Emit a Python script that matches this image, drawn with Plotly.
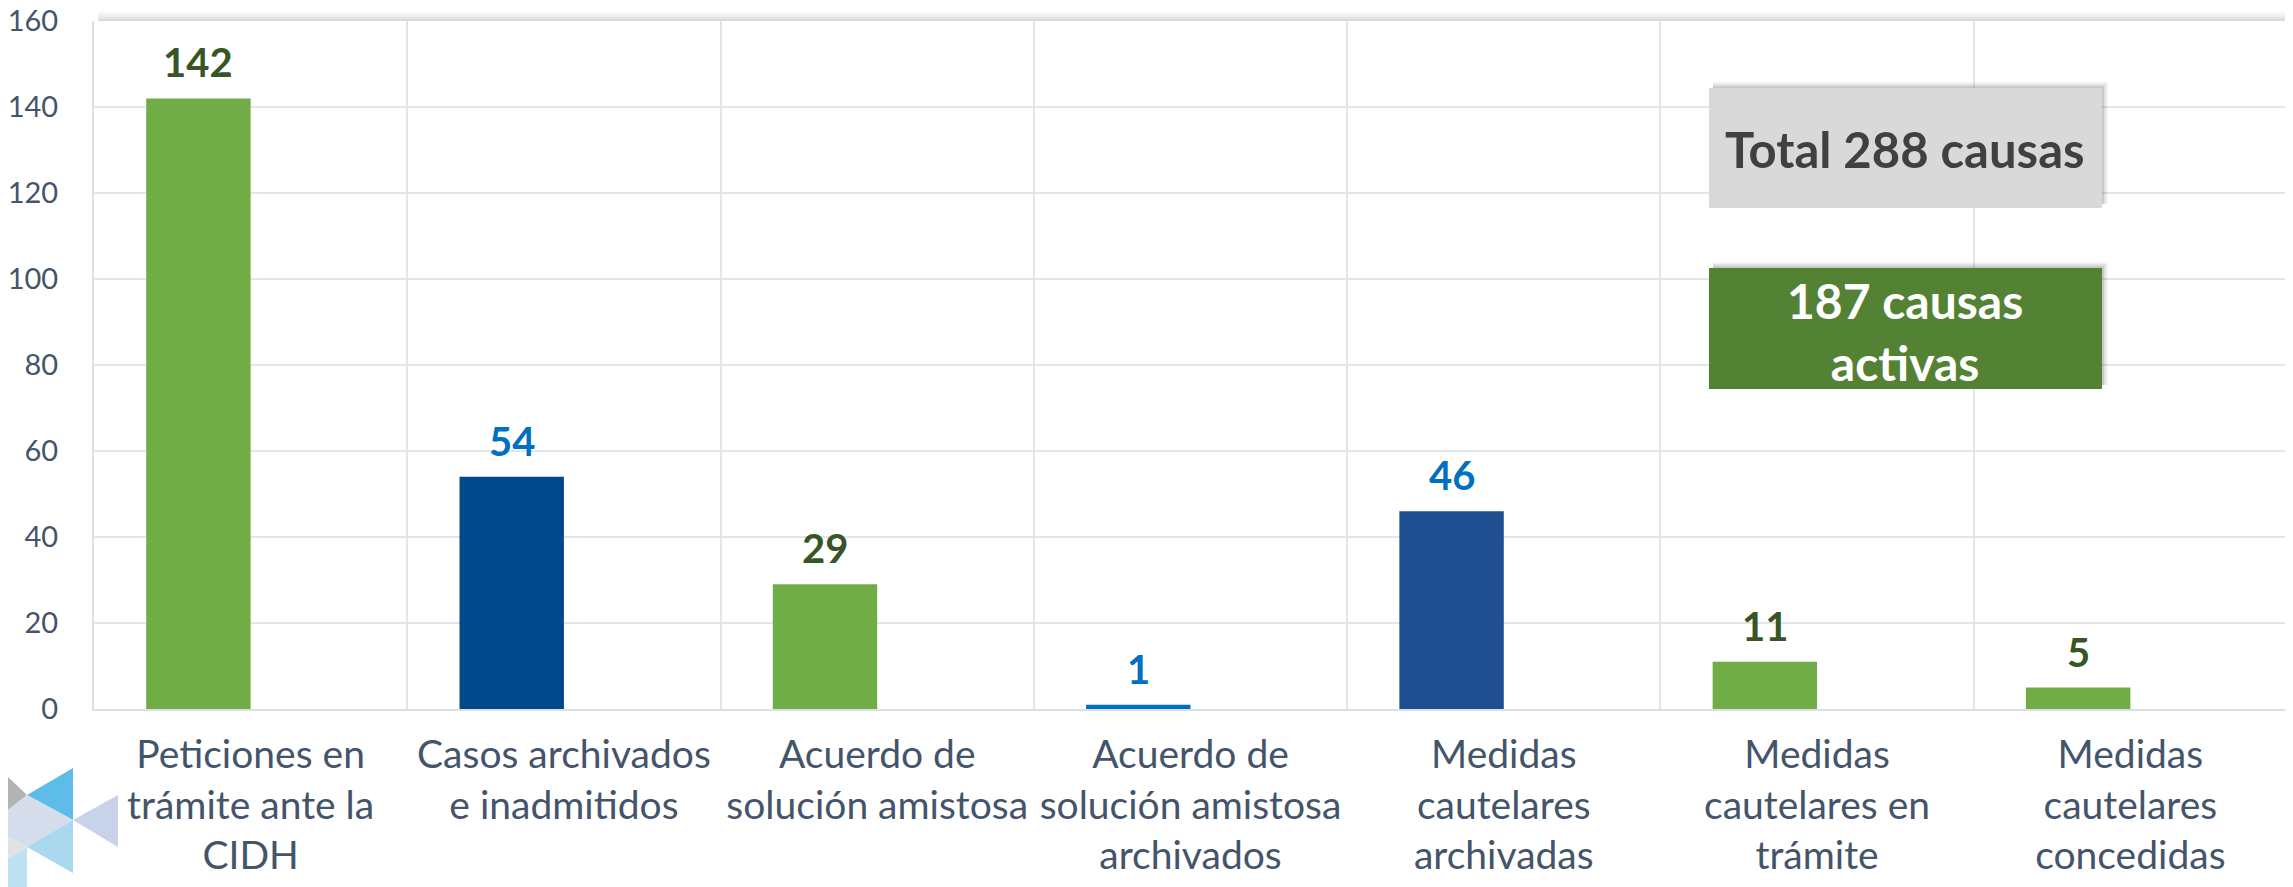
import plotly.graph_objects as go

categories = [
    "Peticiones en<br>trámite ante la<br>CIDH",
    "Casos archivados<br>e inadmitidos",
    "Acuerdo de<br>solución amistosa",
    "Acuerdo de<br>solución amistosa<br>archivados",
    "Medidas<br>cautelares<br>archivadas",
    "Medidas<br>cautelares en<br>trámite",
    "Medidas<br>cautelares<br>concedidas",
]
values = [142, 54, 29, 1, 46, 11, 5]
bar_colors = ["#70AD47", "#004A8B", "#70AD47", "#0070C0", "#1F4E91", "#70AD47", "#70AD47"]
label_colors = ["#375623", "#0070C0", "#375623", "#0070C0", "#0070C0", "#375623", "#375623"]
y_ticks = [0, 20, 40, 60, 80, 100, 120, 140, 160]
box_total = "Total 288 causas"
box_active = "187 causas<br>activas"

FONT = "Lato"
OFF = 8  # default page body margin
W, H = 2293 - OFF, 887 - OFF
PL, PR, PT, PB = 94, 2287, 21, 709  # plot area in page pixels
L, T = PL - OFF, PT - OFF
pw, ph = PR - PL, PB - PT
R, B = W - L - pw, H - T - ph

def px(x):
    return (x - PL) / pw

def py(y):
    return (PB - y) / ph

fig = go.Figure()
fig.add_trace(go.Bar(
    x=categories, y=values,
    marker=dict(color=bar_colors, line=dict(width=0)),
    width=1/3, offset=-1/3,
    hoverinfo="skip",
))

annotations = []
for i, (v, c) in enumerate(zip(values, label_colors)):
    annotations.append(dict(
        x=i - 1/6, y=v, xref="x", yref="y", text=f"<b>{v}</b>",
        showarrow=False, xanchor="center", yanchor="bottom", yshift=10,
        font=dict(family=FONT, size=40, color=c),
    ))

shapes = []
# top shadow
for y0, op in [(11, 0.04), (13, 0.08), (15, 0.13), (17, 0.2), (19, 0.28)]:
    shapes.append(dict(type="rect", xref="paper", yref="paper",
                       x0=px(98), x1=px(2293), y0=py(y0 + 2), y1=py(y0),
                       fillcolor="#7F7F7F", opacity=op, line=dict(width=0), layer="below"))

# boxes with shadows
for (x0, y0, x1, y1, col) in [(1709, 88, 2102, 208, "#D9D9D9"), (1709, 268, 2102, 389, "#548235")]:
    for d, op in [(6, 0.08), (4, 0.12), (2, 0.18)]:
        shapes.append(dict(type="rect", xref="paper", yref="paper",
                           x0=px(x0 + 4), x1=px(x1 + d), y0=py(y1 - 4), y1=py(y0 - d),
                           fillcolor="#606060", opacity=op, line=dict(width=0)))
    shapes.append(dict(type="rect", xref="paper", yref="paper",
                       x0=px(x0), x1=px(x1), y0=py(y1), y1=py(y0),
                       fillcolor=col, line=dict(width=0)))

annotations.append(dict(x=px(1905), y=py(149), xref="paper", yref="paper",
                        xanchor="center", yanchor="middle",
                        text=f"<b>{box_total}</b>", showarrow=False,
                        font=dict(family=FONT, size=49, color="#404040")))
annotations.append(dict(x=px(1905), y=py(331), xref="paper", yref="paper",
                        xanchor="center", yanchor="middle",
                        text=f"<b>{box_active}</b>", showarrow=False,
                        font=dict(family=FONT, size=48, color="#FFFFFF")))

# decorative logo triangles (bottom-left)
tris = [
    ([(8, 777), (27, 795), (8, 810)], "#B3B3B3"),
    ([(27, 795), (73, 768), (73, 820)], "#5DBDE8"),
    ([(8, 810), (27, 795), (73, 820), (27, 847), (8, 837)], "#D5DCEC"),
    ([(73, 820), (118, 795), (118, 847)], "#C8D2E8"),
    ([(27, 847), (73, 820), (73, 873)], "#A9D8EF"),
    ([(8, 837), (27, 847), (8, 858)], "#E2E2E2"),
    ([(8, 858), (27, 847), (27, 887), (8, 887)], "#BFE2F3"),
]
for pts, col in tris:
    path = "M " + " L ".join(f"{px(x)},{py(y)}" for x, y in pts) + " Z"
    shapes.append(dict(type="path", xref="paper", yref="paper", path=path,
                       fillcolor=col, line=dict(width=0)))

fig.update_layout(
    width=W, height=H,
    margin=dict(l=L, r=R, t=T, b=B),
    paper_bgcolor="white", plot_bgcolor="white",
    showlegend=False,
    annotations=annotations,
    shapes=shapes,
    font=dict(family=FONT, color="#44546A"),
    xaxis=dict(
        type="category", tickson="boundaries", showgrid=True, automargin=False,
        gridcolor="#E1E5EC", gridwidth=2,
        showline=True, linecolor="#DCE0E6", linewidth=2,
        ticks="outside", ticklen=44, tickcolor="rgba(0,0,0,0)",
        ticklabelstandoff=10, ticklabeloverflow="allow",
        tickangle=0, tickfont=dict(family=FONT, size=39, color="#44546A"),
        range=[-0.5, 6.5],
    ),
    yaxis=dict(
        range=[0, 160], tickvals=y_ticks, showgrid=True, automargin=False,
        gridcolor="#E1E5EC", gridwidth=2,
        showline=True, linecolor="#DCE0E6", linewidth=2,
        ticks="outside", ticklen=28, tickcolor="rgba(0,0,0,0)",
        ticklabeloverflow="allow",
        tickfont=dict(family=FONT, size=29, color="#44546A"),
        zeroline=False,
    ),
)

fig.write_html("out.html")
